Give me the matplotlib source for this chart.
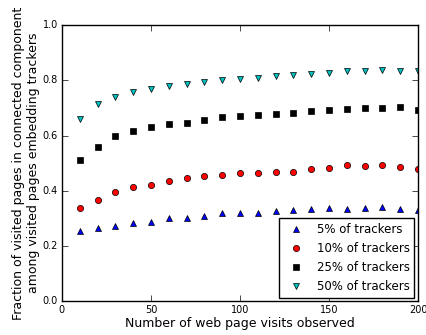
import matplotlib
matplotlib.use("Agg")
import matplotlib.pyplot as plt

plt.style.use("classic")

visits = list(range(10, 201, 10))

trackers_5 = [0.254, 0.266, 0.271, 0.283, 0.287, 0.301, 0.302, 0.309, 0.319, 0.319,
              0.319, 0.325, 0.329, 0.333, 0.337, 0.333, 0.336, 0.341, 0.334, 0.330]
trackers_10 = [0.338, 0.367, 0.396, 0.413, 0.420, 0.434, 0.445, 0.454, 0.458, 0.465,
               0.464, 0.468, 0.468, 0.479, 0.482, 0.493, 0.489, 0.492, 0.487, 0.477]
trackers_25 = [0.512, 0.559, 0.598, 0.615, 0.632, 0.640, 0.647, 0.655, 0.666, 0.670,
               0.676, 0.678, 0.681, 0.690, 0.694, 0.697, 0.698, 0.701, 0.702, 0.691]
trackers_50 = [0.659, 0.713, 0.738, 0.756, 0.767, 0.778, 0.785, 0.793, 0.800, 0.804,
               0.810, 0.814, 0.818, 0.822, 0.826, 0.832, 0.832, 0.836, 0.834, 0.832]

fig = plt.figure(figsize=(4.27, 3.35), dpi=100)
ax = fig.add_axes([0.145, 0.101, 0.834, 0.824])

ms = 4.5
ax.plot(visits, trackers_5, "^", color="b", markersize=ms, label="5% of trackers")
ax.plot(visits, trackers_10, "o", color="r", markersize=ms, label="10% of trackers")
ax.plot(visits, trackers_25, "s", color="k", markersize=ms, label="25% of trackers")
ax.plot(visits, trackers_50, "v", color="c", markersize=ms, label="50% of trackers")

ax.set_xlim(0, 200)
ax.set_ylim(0, 1.0)
ax.set_xticks([0, 50, 100, 150, 200])
ax.set_yticks([0.0, 0.2, 0.4, 0.6, 0.8, 1.0])
ax.tick_params(labelsize=7, pad=3)
ax.set_xlabel("Number of web page visits observed", fontsize=9, labelpad=1)
ax.set_ylabel("Fraction of visited pages in connected component\namong visited pages embedding trackers",
              fontsize=9, labelpad=2)
ax.legend(loc="lower right", numpoints=1, fontsize=8.5, borderaxespad=0.3)

fig.savefig("out.png", dpi=100)
